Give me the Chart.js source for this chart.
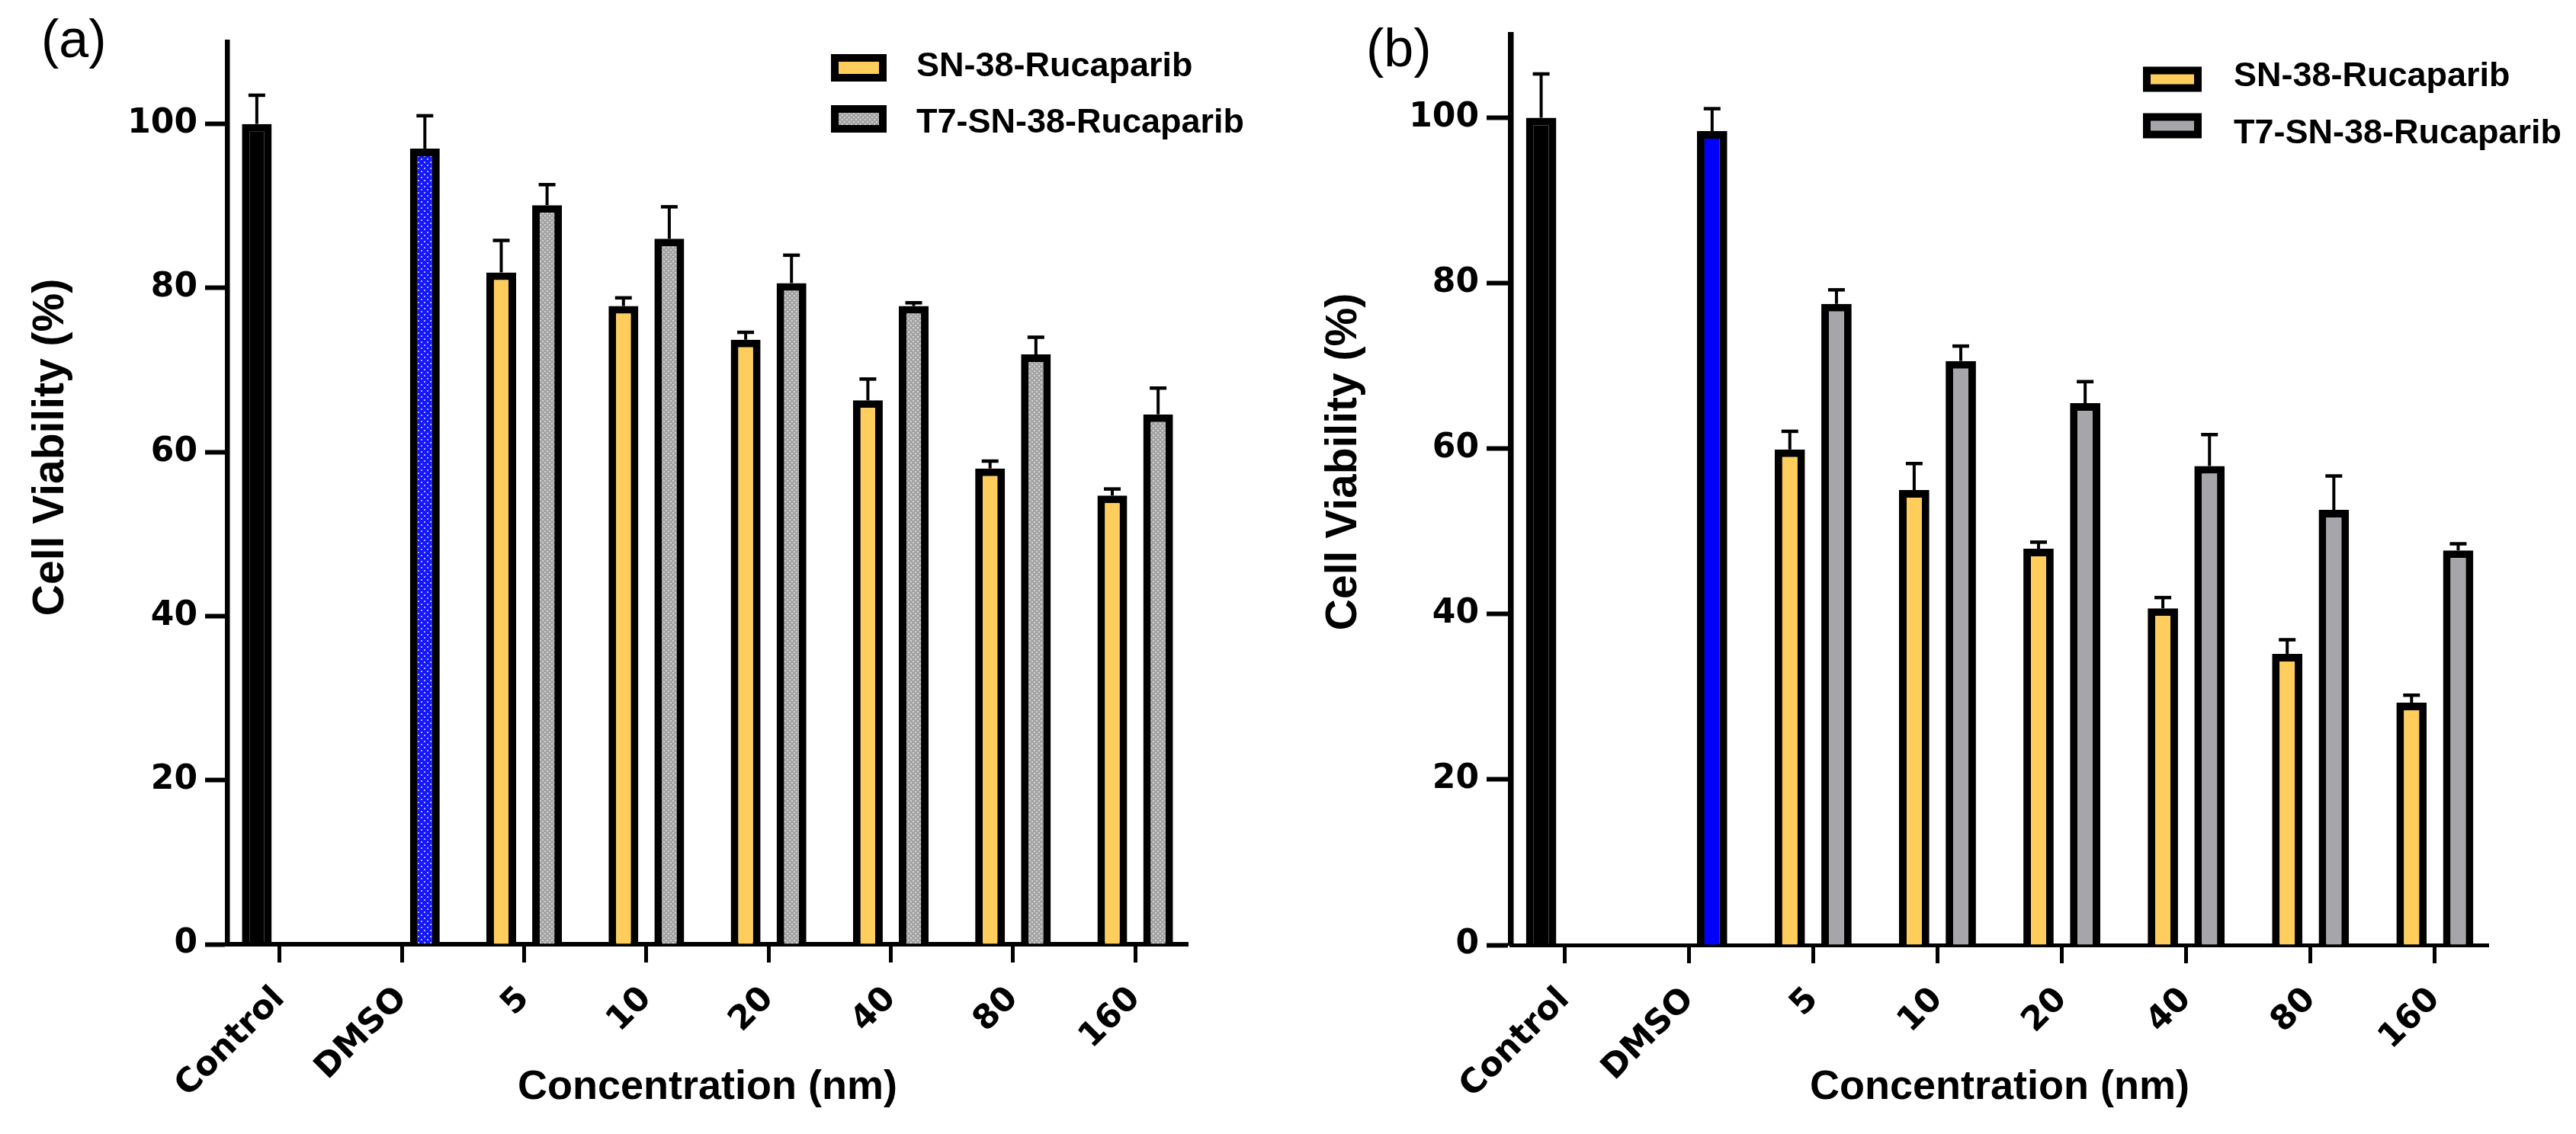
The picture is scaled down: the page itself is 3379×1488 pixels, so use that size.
<!DOCTYPE html>
<html>
<head>
<meta charset="utf-8">
<script src="https://cdn.jsdelivr.net/npm/chart.js@4.4.1/dist/chart.umd.min.js"></script>
<style>
  html, body { margin: 0; padding: 0; background: #fff; }
  #wrap { position: relative; width: 3379px; height: 1488px; overflow: hidden; }
  canvas { position: absolute; top: 0; }
</style>
</head>
<body>
<div id="wrap">
  <canvas id="chartA" width="1690" height="1488" style="left:0"></canvas>
  <canvas id="chartB" width="1689" height="1488" style="left:1690px"></canvas>
</div>
<script>
// values
const categories = ["Control", "DMSO", "5", "10", "20", "40", "80", "160"];
const yTicks = [0, 20, 40, 60, 80, 100];

// panel (a)
const snA    = [100, null, 81.9, 77.8, 73.7, 66.3, 58.0, 54.7];
const snAErr = [3.5, null, 3.9, 1.0, 0.9, 2.6, 0.9, 0.8];
const t7A    = [null, 97.0, 90.1, 86.0, 80.6, 77.8, 71.9, 64.6];
const t7AErr = [null, 4.0, 2.5, 3.9, 3.4, 0.4, 2.1, 3.2];

// panel (b)
const snB    = [100, null, 59.9, 55.0, 47.9, 40.7, 35.2, 29.3];
const snBErr = [5.3, null, 2.2, 3.2, 0.8, 1.3, 1.7, 0.9];
const t7B    = [null, 98.4, 77.5, 70.6, 65.5, 57.9, 52.6, 47.7];
const t7BErr = [null, 2.7, 1.7, 1.8, 2.6, 3.8, 4.1, 0.8];

const seriesNames = ["SN-38-Rucaparib", "T7-SN-38-Rucaparib"];
const yTitle = "Cell Viability (%)";

const YELLOW = "#ffcd5c";
const ARIAL = "'Liberation Sans', Arial, sans-serif";
const DEJAVU = "'DejaVu Sans', sans-serif";

function makePattern(bg, dot, w, h, d) {
  const c = document.createElement("canvas");
  c.width = w; c.height = h;
  const g = c.getContext("2d");
  g.fillStyle = bg;
  g.fillRect(0, 0, w, h);
  g.fillStyle = dot;
  g.fillRect(0, 0, d, d);
  g.fillRect(Math.floor(w / 2), Math.floor(h / 2), d, d);
  return g.createPattern(c, "repeat");
}

const grayDots = makePattern("#a4a4a4", "#d2d2d2", 6, 6, 2);
const blueDots = makePattern("#1717ff", "#a9b4ff", 8, 8, 2);

// error bars, drawn upward only
const errorBars = {
  id: "errorBars",
  afterDatasetsDraw(chart, args, o) {
    const ctx = chart.ctx;
    const ys = chart.scales.y;
    chart.data.datasets.forEach((ds, di) => {
      const meta = chart.getDatasetMeta(di);
      meta.data.forEach((bar, i) => {
        const v = ds.data[i].y;
        const e = ds.errors[i];
        if (v == null || e == null) return;
        const top = ys.getPixelForValue(v + e);
        ctx.save();
        ctx.strokeStyle = "#000";
        ctx.lineWidth = o.stem;
        ctx.beginPath();
        ctx.moveTo(bar.x, bar.y);
        ctx.lineTo(bar.x, top);
        ctx.stroke();
        ctx.lineWidth = o.capWidth;
        ctx.beginPath();
        ctx.moveTo(bar.x - o.cap, top);
        ctx.lineTo(bar.x + o.cap, top);
        ctx.stroke();
        ctx.restore();
      });
    });
  }
};

// panel tag, y title and legend boxes
const panelDecor = {
  id: "panelDecor",
  afterDraw(chart, args, o) {
    const ctx = chart.ctx;
    ctx.save();
    ctx.fillStyle = "#000";
    ctx.font = "70px " + ARIAL;
    ctx.textBaseline = "alphabetic";
    ctx.textAlign = "left";
    ctx.fillText(o.tag, o.tagX, o.tagY);

    // y axis title sits a bit above the middle of the axis in the original
    ctx.save();
    ctx.translate(o.yTitleX, o.yTitleY);
    ctx.rotate(-Math.PI / 2);
    ctx.font = "bold 57px " + ARIAL;
    ctx.textAlign = "center";
    ctx.textBaseline = "middle";
    ctx.fillText(yTitle, 0, 0);
    ctx.restore();

    ctx.font = "bold 45px " + ARIAL;
    ctx.textBaseline = "middle";
    ctx.textAlign = "left";
    chart.data.datasets.forEach((ds, i) => {
      const yc = o.rows[i];
      ctx.fillStyle = "#000";
      ctx.fillRect(o.boxX, yc - o.boxH / 2, o.boxW, o.boxH);
      ctx.fillStyle = o.swatches[i];
      ctx.fillRect(o.boxX + o.boxLine, yc - o.boxH / 2 + o.boxLine,
                   o.boxW - 2 * o.boxLine, o.boxH - 2 * o.boxLine);
      ctx.fillStyle = "#000";
      ctx.fillText(ds.label, o.textX, o.textRows[i]);
    });
    ctx.restore();
  }
};

function drawPanel(p) {
  const snColors = categories.map((c, i) => i === 0 ? "#000000" : YELLOW);
  const t7Colors = categories.map((c, i) => i === 1 ? p.blue : p.gray);

  new Chart(document.getElementById(p.canvas), {
    type: "bar",
    data: {
      datasets: [
        {
          label: seriesNames[0],
          data: categories.map((c, i) => ({ x: i, y: p.sn[i] })),
          errors: p.snErr,
          backgroundColor: snColors,
          borderColor: "#000",
          borderWidth: 10,
          categoryPercentage: 0.75,
          barPercentage: 0.65
        },
        {
          label: seriesNames[1],
          data: categories.map((c, i) => ({ x: i, y: p.t7[i] })),
          errors: p.t7Err,
          backgroundColor: t7Colors,
          borderColor: "#000",
          borderWidth: 10,
          categoryPercentage: 0.75,
          barPercentage: 0.65
        }
      ]
    },
    options: {
      responsive: false,
      animation: false,
      devicePixelRatio: 1,
      layout: { padding: { left: 0, top: p.top, right: p.right, bottom: 0 } },
      scales: {
        x: {
          type: "linear",
          offset: false,
          min: -0.43,
          max: categories.length - 1 + 0.43,
          afterBuildTicks: s => { s.ticks = categories.map((c, i) => ({ value: i })); },
          afterFit: s => { s.height = p.xHeight; },
          grid: { offset: false, drawOnChartArea: false, tickLength: 24, tickWidth: 5, tickColor: "#000" },
          border: { color: "#000", width: p.xLine },
          ticks: {
            autoSkip: false,
            minRotation: 45,
            maxRotation: 45,
            padding: 22,
            color: "#000",
            font: { family: DEJAVU, weight: "bold", size: 44 },
            callback: v => categories[v]
          },
          title: {
            display: true,
            text: "Concentration (nm)",
            color: "#000",
            font: { family: ARIAL, weight: "bold", size: 54 },
            padding: { top: 0, bottom: 28 }
          }
        },
        y: {
          min: 0,
          max: 110,
          afterBuildTicks: s => { s.ticks = yTicks.map(v => ({ value: v })); },
          afterFit: s => { s.width = p.yWidth; },
          grid: { drawOnChartArea: false, tickLength: p.yTick, tickWidth: 6, tickColor: "#000" },
          border: { color: "#000", width: p.yLine },
          ticks: {
            padding: 10,
            color: "#000",
            font: { family: DEJAVU, weight: "bold", size: 44 }
          },
          title: { display: false }
        }
      },
      plugins: {
        legend: { display: false },
        tooltip: { enabled: false },
        errorBars: { stem: 4, capWidth: 4.5, cap: 11 },
        panelDecor: p.decor
      }
    },
    plugins: [errorBars, panelDecor]
  });
}

drawPanel({
  canvas: "chartA",
  sn: snA, snErr: snAErr, t7: t7A, t7Err: t7AErr,
  blue: blueDots, gray: grayDots,
  top: 55, right: 132, xHeight: 249, yWidth: 298,
  xLine: 6, yLine: 6.5, yTick: 29,
  decor: {
    tag: "(a)", tagX: 54, tagY: 75,
    yTitleX: 67, yTitleY: 587,
    boxX: 1090, boxW: 73, boxH: 36, boxLine: 10,
    rows: [89, 156], textRows: [88, 162], textX: 1202,
    swatches: [YELLOW, grayDots]
  }
});

drawPanel({
  canvas: "chartB",
  sn: snB, snErr: snBErr, t7: t7B, t7Err: t7BErr,
  blue: "#0000ff", gray: "#a6a6aa",
  top: 46, right: 115, xHeight: 248, yWidth: 292,
  xLine: 5, yLine: 7.5, yTick: 32,
  decor: {
    tag: "(b)", tagX: 102, tagY: 87,
    yTitleX: 73, yTitleY: 606,
    boxX: 1121, boxW: 77, boxH: 33, boxLine: 10,
    rows: [104, 165], textRows: [101, 176], textX: 1240,
    swatches: [YELLOW, "#a6a6aa"]
  }
});
</script>
</body>
</html>
